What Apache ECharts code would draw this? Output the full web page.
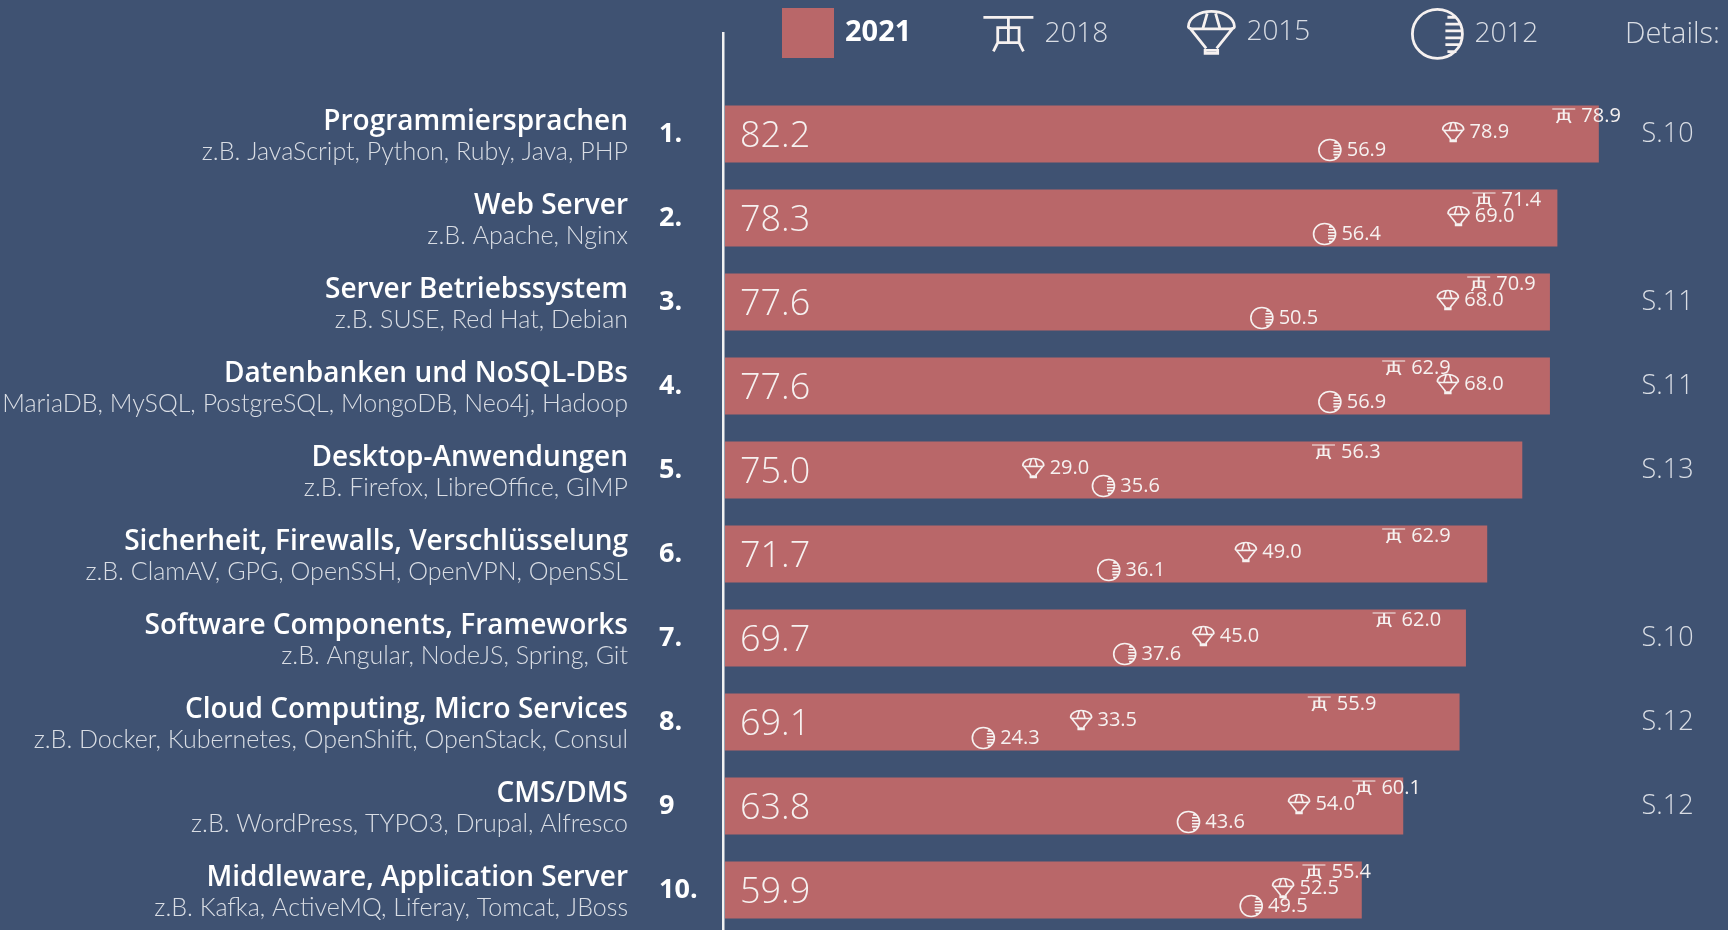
<!DOCTYPE html>
<html><head><meta charset="utf-8">
<style>html,body{margin:0;padding:0;background:#3f5272;overflow:hidden}#c{width:1728px;height:930px}</style>
<script src="https://cdn.jsdelivr.net/npm/echarts@6/dist/echarts.min.js"></script>
</head><body><div id="c"></div>
<script>
const categories = ['Programmiersprachen','Web Server','Server Betriebssystem','Datenbanken und NoSQL-DBs','Desktop-Anwendungen','Sicherheit, Firewalls, Verschlüsselung','Software Components, Frameworks','Cloud Computing, Micro Services','CMS/DMS','Middleware, Application Server'];
const examples = ['z.B. JavaScript, Python, Ruby, Java, PHP','z.B. Apache, Nginx','z.B. SUSE, Red Hat, Debian','z.B. MariaDB, MySQL, PostgreSQL, MongoDB, Neo4j, Hadoop','z.B. Firefox, LibreOffice, GIMP','z.B. ClamAV, GPG, OpenSSH, OpenVPN, OpenSSL','z.B. Angular, NodeJS, Spring, Git','z.B. Docker, Kubernetes, OpenShift, OpenStack, Consul','z.B. WordPress, TYPO3, Drupal, Alfresco','z.B. Kafka, ActiveMQ, Liferay, Tomcat, JBoss'];
const ranks = ['1.','2.','3.','4.','5.','6.','7.','8.','9','10.'];
const details = ['S.10','','S.11','S.11','S.13','','S.10','S.12','S.12',''];
const values2021 = [82.2,78.3,77.6,77.6,75.0,71.7,69.7,69.1,63.8,59.9];
const values2018 = [78.9,71.4,70.9,62.9,56.3,62.9,62.0,55.9,60.1,55.4];
// the picture prints 78.9 in row 1 of 2015 but places the marker near 68.5
const values2015 = [68.5,69.0,68.0,68.0,29.0,49.0,45.0,33.5,54.0,52.5];
const labels2015 = ['78.9','69.0','68.0','68.0','29.0','49.0','45.0','33.5','54.0','52.5'];
const values2012 = [56.9,56.4,50.5,56.9,35.6,36.1,37.6,24.3,43.6,49.5];

const BG='#3f5272', BAR='#b96769', TXT='#f6f1f0', SOFT='#d9dde4';
const SANS='"Open Sans",sans-serif';
const CRANE='path://M0 10L150 10M75 10L75 77M43 37L107 37L107 77L43 77ZM43 77L30 100M107 77L120 100';
const CHUTE='path://M1 15C1 6 12 0 23 0C34 0 45 6 45 15C45 18 38 17 23 17C8 17 1 18 1 15ZM15 16L19 2M31 16L27 2M3 17L18 36M43 17L28 36M17 38L29 38L29 41L17 41Z';
const MOON='path://M25 0C39 0 50 11 50 25C50 39 39 50 25 50C11 50 0 39 0 25C0 11 11 0 25 0ZM35 8L44 8M33 15L48 15M33 22L49 22M33 29L49 29M33 36L48 36M35 43L44 43';

function scatter(name,vals,icon,size,dy,labels){
  return {name,type:'scatter',yAxisIndex:0,symbol:icon,symbolSize:size,symbolKeepAspect:false,symbolOffset:[0,dy],
    data:vals.map((v,i)=>[v,categories[i]]),
    itemStyle:{color:'rgba(0,0,0,0)',borderColor:TXT,borderWidth:1.6,opacity:1},
    emphasis:{disabled:true},z:5,
    label:{show:true,position:'right',distance:5,color:TXT,fontFamily:SANS,fontSize:20,fontWeight:400,
      formatter:p=>labels?labels[p.dataIndex]:vals[p.dataIndex].toFixed(1)}};
}
function legend(name,left,top,w,h,icon,bold,gap,stroke,dropText){
  return {data:[{name,icon}],left,top,itemWidth:w,itemHeight:h,padding:0,selectedMode:false,symbolKeepAspect:false,
    itemStyle:stroke?{color:'rgba(0,0,0,0)',borderColor:TXT,borderWidth:2.8}:{color:BAR,borderWidth:0},
    textStyle:{color:bold?'#ffffff':SOFT,fontFamily:SANS,fontSize:bold?29:28,fontWeight:bold?700:300,padding:[dropText,0,0,gap]}};
}
const axisBase={type:'category',inverse:true,data:categories,axisLine:{show:false},axisTick:{show:false},splitLine:{show:false}};
const chart=echarts.init(document.getElementById('c'),null,{renderer:'canvas'});
chart.setOption({
  animation:false,backgroundColor:BG,
  title:{text:'Details:',left:1625,top:20,padding:0,textStyle:{color:SOFT,fontFamily:SANS,fontSize:29,fontWeight:300}},
  grid:{left:725,top:92,width:903.6,height:840,outerBoundsMode:'none'},
  legend:[
    legend('2021',782,8,52,50,'rect',true,6,false,0),
    legend('2018',982,16,50,34,CRANE,false,6,true,0),
    legend('2015',1187,10,46,42,CHUTE,false,7,true,2),
    legend('2012',1411,8,50,49,MOON,false,7,true,7)
  ],
  xAxis:{type:'value',min:0,max:85,show:false},
  yAxis:[
    Object.assign({},axisBase,{position:'left',axisLabel:{interval:0,margin:97,align:'right',padding:[6,0,0,0],
      formatter:(v,i)=>'{t|'+v+'}\n{s|'+examples[i]+'}',
      rich:{t:{fontFamily:SANS,fontSize:28,fontWeight:600,color:'#ffffff',lineHeight:29,align:'right'},
            s:{fontFamily:'Lato,'+SANS,fontSize:25,fontWeight:300,color:SOFT,lineHeight:29,align:'right'}}}}),
    Object.assign({},axisBase,{position:'left',axisLabel:{interval:0,margin:66,align:'left',padding:[4,0,0,0],
      formatter:(v,i)=>ranks[i],color:'#ffffff',fontFamily:SANS,fontSize:27,fontWeight:700}}),
    Object.assign({},axisBase,{position:'right',axisLabel:{interval:0,margin:13,align:'left',padding:[4,0,0,0],
      formatter:(v,i)=>details[i],color:SOFT,fontFamily:SANS,fontSize:27,fontWeight:300}})
  ],
  graphic:[{type:'rect',shape:{x:722,y:32,width:2.5,height:898},style:{fill:'#f2f2f2'},silent:true,z:10}],
  series:[
    {name:'2021',type:'bar',yAxisIndex:0,barWidth:57,data:values2021,itemStyle:{color:BAR},emphasis:{disabled:true},
     label:{show:true,position:'insideLeft',distance:15,offset:[0,3],color:TXT,fontFamily:SANS,fontSize:36,fontWeight:300,formatter:p=>p.value.toFixed(1)}},
    scatter('2018',values2018,CRANE,[23,14],-18),
    scatter('2015',values2015,CHUTE,[21,19],-2,labels2015),
    scatter('2012',values2012,MOON,[22,21],16)
  ]
});
</script></body></html>
